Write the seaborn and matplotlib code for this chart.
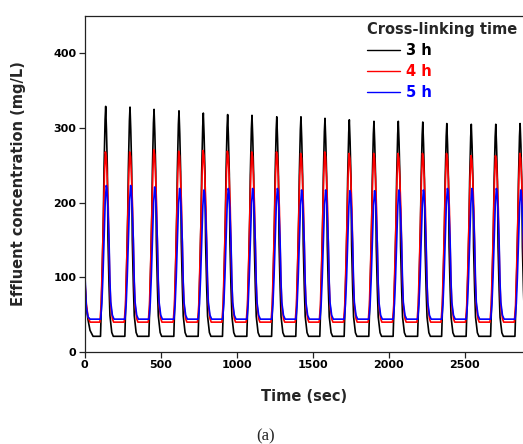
import matplotlib
matplotlib.use("Agg")
import matplotlib.pyplot as plt
import numpy as np
import pandas as pd
import seaborn as sns

# ---- data -------------------------------------------------------------
series_names = ["3 h", "4 h", "5 h"]
series_colors = ["#000000", "#ff0000", "#0000ff"]

# time (s) of each effluent pulse maximum
peak_times = [138, 298, 456, 620, 780, 940, 1100, 1263, 1422, 1580,
              1740, 1902, 2062, 2223, 2381, 2542, 2703, 2863]

# pulse maxima (mg/L) for each cross-linking time
peaks_3h = [329, 328, 325, 323, 320, 318, 317, 315, 315, 313,
            311, 309, 309, 308, 306, 305, 305, 306]
peaks_4h = [268, 268, 271, 269, 270, 269, 268, 268, 266, 268,
            266, 266, 266, 266, 266, 263, 263, 266]
peaks_5h = [223, 223, 221, 219, 217, 219, 219, 219, 217, 217,
            216, 216, 217, 217, 219, 219, 219, 217]

# plateau level between pulses (mg/L)
base_3h = 21
base_4h = 40
base_5h = 44

# pulse shape: time offset from the pulse maximum (s) and fraction of pulse height
shape_t_3h = [-34, -29, -22, -15, -11, -4, 0, 5, 11, 15, 22, 28, 40, 50]
shape_f_3h = [0, 0.12, 0.31, 0.53, 0.73, 0.94, 1.0, 0.9, 0.73, 0.42, 0.22, 0.09, 0.017, 0]
shape_t_4h = [-38, -30, -22, -15, -8, -2, 4, 10, 17, 26, 33, 44, 52]
shape_f_4h = [0, 0.1, 0.35, 0.6, 0.87, 1.0, 0.97, 0.85, 0.67, 0.27, 0.1, 0.02, 0]
shape_t_5h = [-33, -25, -18, -10, -3, 4, 8, 14, 22, 28, 33, 44, 55]
shape_f_5h = [0, 0.12, 0.32, 0.62, 0.88, 1.0, 0.98, 0.85, 0.59, 0.28, 0.13, 0.03, 0]

# tail of the preceding pulse at the start of the record
lead_t_3h = [0, 11, 22, 35, 55]
lead_c_3h = [96, 59, 43, 29, 21]
lead_t_4h = [0, 11, 22, 35]
lead_c_4h = [100, 64, 47, 40]
lead_t_5h = [0, 11, 22, 35]
lead_c_5h = [110, 60, 47, 44]


def build_series(name, lead_t, lead_c, peaks, base, shape_t, shape_f):
    t = list(lead_t)
    c = list(lead_c)
    for tp, pk in zip(peak_times, peaks):
        for dt, fr in zip(shape_t, shape_f):
            t.append(tp + dt)
            c.append(base + fr * (pk - base))
    return pd.DataFrame({"time": t, "conc": c, "series": name})


df = pd.concat([
    build_series("3 h", lead_t_3h, lead_c_3h, peaks_3h, base_3h, shape_t_3h, shape_f_3h),
    build_series("4 h", lead_t_4h, lead_c_4h, peaks_4h, base_4h, shape_t_4h, shape_f_4h),
    build_series("5 h", lead_t_5h, lead_c_5h, peaks_5h, base_5h, shape_t_5h, shape_f_5h),
], ignore_index=True)

# ---- figure -----------------------------------------------------------
sns.set_style("ticks")
plt.rcParams["font.family"] = ["DejaVu Sans"]

W, H = 523, 444
fig = plt.figure(figsize=(W / 100, H / 100), dpi=100)
ax = fig.add_axes([84.7 / W, 1 - 352 / H, (W - 84.7) / W, (352 - 16) / H])

sns.lineplot(data=df, x="time", y="conc", hue="series", hue_order=series_names,
             palette=dict(zip(series_names, series_colors)), linewidth=1.2,
             estimator=None, sort=False, ax=ax)

ax.set_xlim(0, 2882)
ax.set_ylim(0, 450)
ax.set_xticks([0, 500, 1000, 1500, 2000, 2500])
ax.set_yticks([0, 100, 200, 300, 400])

for side in ["left", "bottom", "top"]:
    ax.spines[side].set_linewidth(0.9)
    ax.spines[side].set_color("#222222")
ax.spines["right"].set_visible(False)

ax.tick_params(direction="out", length=4, width=0.9, colors="#222222",
               labelsize=8, pad=2)
for lab in ax.get_xticklabels() + ax.get_yticklabels():
    lab.set_fontweight("bold")
    lab.set_color("black")

ax.set_xlabel("Time (sec)", fontsize=10.5, fontweight="bold")
ax.xaxis.set_label_coords(0.5, -0.11)
ax.set_ylabel("Effluent concentration (mg/L)", fontsize=10.5, fontweight="bold")
ax.yaxis.set_label_coords(-0.134, 0.5)

handles, labels = ax.get_legend_handles_labels()
leg = ax.legend(handles, labels, title="Cross-linking time", loc="upper right",
                bbox_to_anchor=(1.0, 1.0), borderaxespad=0.0, frameon=False,
                prop={"weight": "bold", "size": 10.5},
                title_fontproperties={"weight": "bold", "size": 10.5},
                handlelength=2.3, handletextpad=0.4, labelspacing=0.42,
                alignment="left", labelcolor=series_colors)
for line in leg.get_lines():
    line.set_linewidth(1.0)

fig.text(266 / W, 1 - 436 / H, "(a)", fontsize=12, family=["Liberation Serif"],
         ha="center", va="center")

fig.savefig("out.png", dpi=100)
